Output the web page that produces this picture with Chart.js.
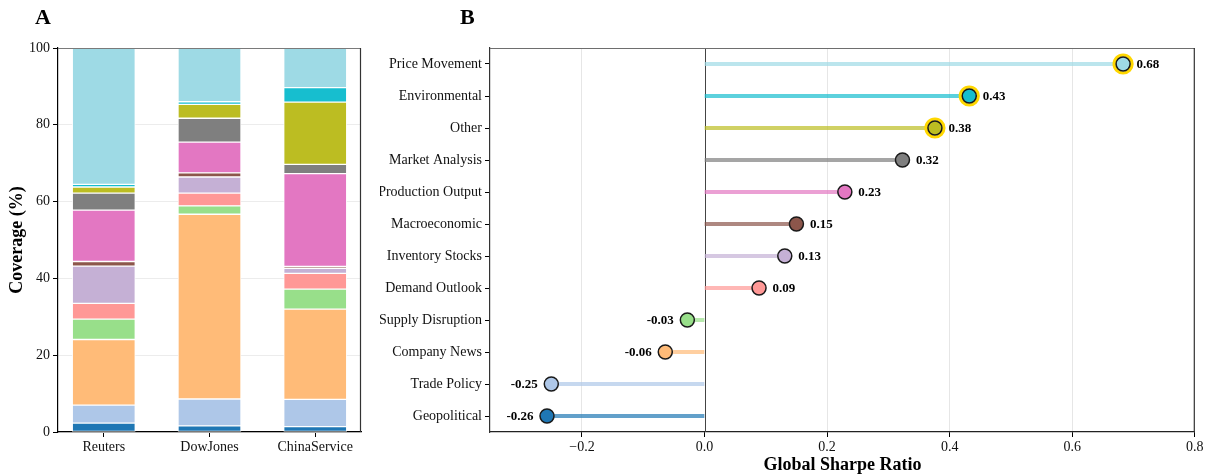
<!DOCTYPE html>
<html>
<head>
<meta charset="utf-8">
<script src="https://cdn.jsdelivr.net/npm/chart.js@4/dist/chart.umd.min.js"></script>
<style>
  html, body { margin: 0; padding: 0; background: #fff; }
  #wrap { position: relative; width: 1207px; height: 474px; overflow: hidden; }
  canvas { position: absolute; top: 0; }
  .tag { position: absolute; font: bold 22px 'Liberation Serif', 'Times New Roman', serif; color: #000; line-height: 1; }
</style>
</head>
<body>
<div id="wrap">
  <canvas id="coverageChart" width="375" height="474" style="left:0px"></canvas>
  <canvas id="sharpeChart" width="827" height="474" style="left:380px"></canvas>
  <div class="tag" style="left:35px;top:6px">A</div>
  <div class="tag" style="left:460px;top:6px">B</div>
</div>
<script>
// ---- data ----
const sources = ['Reuters', 'DowJones', 'ChinaService'];
const topics = ['Geopolitical', 'Trade Policy', 'Company News', 'Supply Disruption', 'Demand Outlook',
  'Inventory Stocks', 'Macroeconomic', 'Production Output', 'Market Analysis', 'Other',
  'Environmental', 'Price Movement'];
const topicColors = ['#1f77b4', '#aec7e8', '#ffbb78', '#98df8a', '#ff9896', '#c5b0d5',
  '#8c564b', '#e377c2', '#7f7f7f', '#bcbd22', '#17becf', '#9edae5'];
// coverage share (%) of each topic per source, same order as topics
const coverageReuters = [2.3, 4.7, 17.1, 5.3, 4.1, 9.7, 1.2, 13.4, 4.4, 1.6, 0.7, 35.5];
const coverageDowJones = [1.6, 7.0, 48.1, 2.2, 3.3, 4.2, 1.1, 8.0, 6.2, 3.6, 0.7, 14.0];
const coverageChinaService = [1.4, 7.1, 23.5, 5.2, 4.1, 1.3, 0.5, 24.2, 2.4, 16.2, 3.8, 10.3];
const sharpeRatio = [-0.257, -0.250, -0.064, -0.028, 0.089, 0.131, 0.150, 0.229, 0.323, 0.376, 0.432, 0.683];
const highlightedTopics = ['Price Movement', 'Environmental', 'Other'];
const coverageTicks = [0, 20, 40, 60, 80, 100];
const sharpeTicks = [-0.2, 0.0, 0.2, 0.4, 0.6, 0.8];

const SERIF = "'Liberation Serif', 'Times New Roman', serif";
Chart.defaults.font.family = SERIF;
Chart.defaults.color = '#111';

function withAlpha(hex, a) {
  const n = parseInt(hex.slice(1), 16);
  return `rgba(${(n >> 16) & 255},${(n >> 8) & 255},${n & 255},${a})`;
}

// outer frame: the axes own left/bottom; top and right are drawn here
function framePlugin(topColor, rightColor) {
  return {
    id: 'frame',
    afterDraw(chart) {
      const { ctx, chartArea: a } = chart;
      ctx.save();
      ctx.lineWidth = 1.2;
      ctx.strokeStyle = topColor;
      ctx.beginPath(); ctx.moveTo(a.left, a.top + 0.5); ctx.lineTo(a.right, a.top + 0.5); ctx.stroke();
      ctx.strokeStyle = rightColor;
      ctx.beginPath(); ctx.moveTo(a.right - 0.5, a.top); ctx.lineTo(a.right - 0.5, a.bottom); ctx.stroke();
      ctx.restore();
    }
  };
}

// ---- Panel A: stacked coverage bars ----
const coverageBySource = [coverageReuters, coverageDowJones, coverageChinaService];
new Chart(document.getElementById('coverageChart'), {
  type: 'bar',
  data: {
    datasets: topics.map((t, i) => ({
      label: t,
      data: sources.map((s, j) => ({ x: j, y: coverageBySource[j][i] })),
      backgroundColor: topicColors[i],
      borderColor: 'rgba(255,255,255,0.85)',
      borderWidth: 1,
      borderSkipped: false,
      barThickness: 63
    }))
  },
  options: {
    responsive: false,
    animation: false,
    devicePixelRatio: 1,
    layout: { padding: { left: 4, right: 14, top: 48, bottom: 0 } },
    plugins: { legend: { display: false }, tooltip: { enabled: false } },
    scales: {
      x: {
        type: 'linear', stacked: true, min: -0.433, max: 2.433, offset: false,
        afterBuildTicks(scale) { scale.ticks = sources.map((s, i) => ({ value: i })); },
        afterFit(scale) { scale.height = 42; },
        ticks: { callback: v => sources[v], font: { size: 14 }, color: '#111', padding: 2, maxRotation: 0 },
        grid: { drawOnChartArea: false, offset: false, tickLength: 5, tickColor: '#000' },
        border: { color: '#000', width: 1.2 }
      },
      y: {
        stacked: true, min: 0, max: 100,
        afterBuildTicks(scale) { scale.ticks = coverageTicks.map(v => ({ value: v })); },
        afterFit(scale) { scale.width = 54; },
        ticks: { font: { size: 14 }, color: '#111', padding: 3 },
        grid: { color: '#ececec', lineWidth: 1, tickLength: 5, tickColor: '#000' },
        border: { color: '#000', width: 1.2 },
        title: { display: true, text: 'Coverage (%)', font: { size: 18, weight: 'bold' }, color: '#000', padding: { top: 3, bottom: 2 } }
      }
    }
  },
  plugins: [framePlugin('#7a7a7a', '#333')]
});

// ---- Panel B: lollipop of Sharpe ratios ----
const valueLabels = {
  id: 'valueLabels',
  afterDatasetsDraw(chart) {
    const { ctx } = chart;
    const xs = chart.scales.x, ys = chart.scales.y;
    ctx.save();
    ctx.font = `bold 13px ${SERIF}`;
    ctx.fillStyle = '#000';
    ctx.textBaseline = 'middle';
    sharpeRatio.forEach((v, i) => {
      const px = xs.getPixelForValue(v), py = ys.getPixelForValue(i);
      const txt = v.toFixed(2);
      if (v >= 0) { ctx.textAlign = 'left'; ctx.fillText(txt, px + 13.5, py + 0.5); }
      else { ctx.textAlign = 'right'; ctx.fillText(txt, px - 13.5, py + 0.5); }
    });
    ctx.restore();
  }
};
const zeroLine = {
  id: 'zeroLine',
  beforeDatasetsDraw(chart) {
    const { ctx, chartArea: a } = chart;
    const x0 = Math.round(chart.scales.x.getPixelForValue(0)) + 0.5;
    ctx.save();
    ctx.strokeStyle = '#444';
    ctx.lineWidth = 1;
    ctx.beginPath(); ctx.moveTo(x0, a.top); ctx.lineTo(x0, a.bottom); ctx.stroke();
    ctx.restore();
  }
};

new Chart(document.getElementById('sharpeChart'), {
  data: {
    labels: topics,
    datasets: [
      {
        type: 'bar', indexAxis: 'y', order: 3,
        data: sharpeRatio.map(v => [0, v]),
        backgroundColor: topicColors.map(c => withAlpha(c, 0.7)),
        borderWidth: 0, barThickness: 3.4
      },
      {
        type: 'line', indexAxis: 'y', order: 2, showLine: false,
        data: sharpeRatio.map((v, i) => highlightedTopics.includes(topics[i]) ? v : null),
        pointRadius: 9, pointBorderWidth: 3.2,
        pointBorderColor: '#FFD700', pointBackgroundColor: 'rgba(0,0,0,0)'
      },
      {
        type: 'line', indexAxis: 'y', order: 1, showLine: false,
        data: sharpeRatio,
        pointRadius: 7, pointBorderWidth: 1.5,
        pointBorderColor: '#1a1a1a', pointBackgroundColor: topicColors
      }
    ]
  },
  options: {
    indexAxis: 'y',
    responsive: false,
    animation: false,
    devicePixelRatio: 1,
    layout: { padding: { left: 0, right: 12, top: 48, bottom: 0 } },
    plugins: { legend: { display: false }, tooltip: { enabled: false } },
    scales: {
      x: {
        type: 'linear', min: -0.35, max: 0.8,
        afterBuildTicks(scale) { scale.ticks = sharpeTicks.map(v => ({ value: v })); },
        afterFit(scale) { scale.height = 42; },
        ticks: {
          callback: v => (v < 0 ? '\u2212' : '') + Math.abs(v).toFixed(1),
          font: { size: 14 }, color: '#111', padding: 2, maxRotation: 0
        },
        grid: {
          color: ctx => (ctx.tick && ctx.tick.value === 0) ? 'rgba(0,0,0,0)' : '#e6e6e6',
          lineWidth: 1, tickLength: 5, tickColor: '#000'
        },
        border: { color: '#222', width: 1.2 },
        title: { display: true, text: 'Global Sharpe Ratio', font: { size: 18, weight: 'bold', lineHeight: 1.0 }, color: '#000', padding: { top: 1, bottom: 0 } }
      },
      y: {
        type: 'category', reverse: true, offset: true,
        afterFit(scale) { scale.width = 110; },
        ticks: { font: { size: 14 }, color: '#111', padding: 3 },
        grid: { drawOnChartArea: false, offset: false, tickLength: 5, tickColor: '#000' },
        border: { color: '#333', width: 1.2 }
      }
    }
  },
  plugins: [zeroLine, valueLabels, framePlugin('#6e6e6e', '#333')]
});
</script>
</body>
</html>
